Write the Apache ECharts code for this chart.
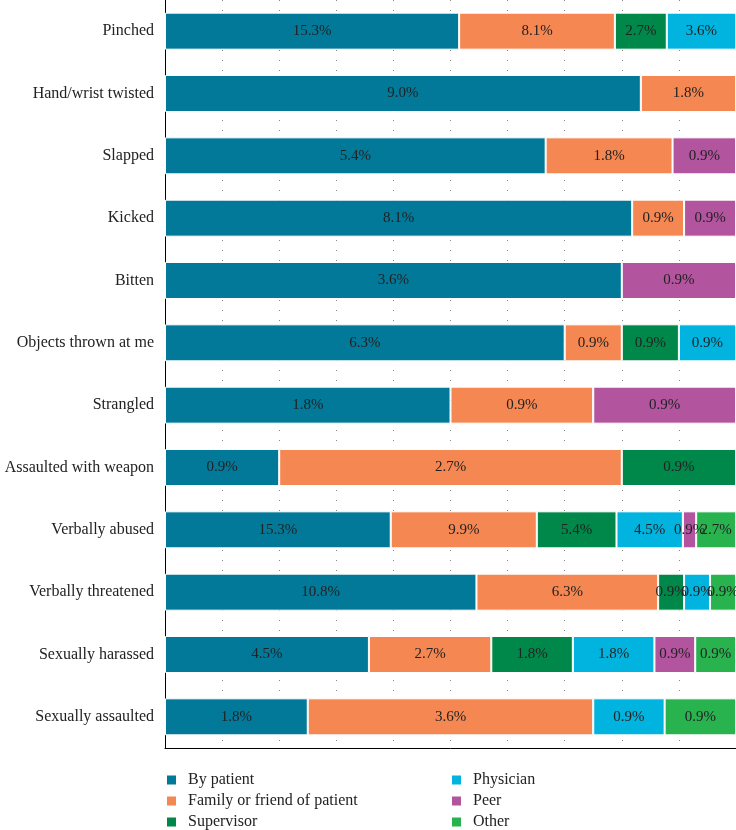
<!DOCTYPE html>
<html>
<head>
<meta charset="utf-8">
<script src="https://cdn.jsdelivr.net/npm/echarts@6/dist/echarts.min.js"></script>
<style>
  html, body { margin: 0; padding: 0; background: #fff; }
  #main { width: 736px; height: 830px; }
</style>
</head>
<body>
<div id="main"></div>
<script>
// categories, top to bottom
var categories = ['Pinched', 'Hand/wrist twisted', 'Slapped', 'Kicked', 'Bitten',
  'Objects thrown at me', 'Strangled', 'Assaulted with weapon', 'Verbally abused',
  'Verbally threatened', 'Sexually harassed', 'Sexually assaulted'];

var seriesNames = ['By patient', 'Family or friend of patient', 'Supervisor', 'Physician', 'Peer', 'Other'];
var colors = ['#03799a', '#f58752', '#00874a', '#00b4df', '#b3549f', '#29b34f'];

// percentages (0 = not present)
var byPatient  = [15.3, 9.0, 5.4, 8.1, 3.6, 6.3, 1.8, 0.9, 15.3, 10.8, 4.5, 1.8];
var family     = [8.1, 1.8, 1.8, 0.9, 0, 0.9, 0.9, 2.7, 9.9, 6.3, 2.7, 3.6];
var supervisor = [2.7, 0, 0, 0, 0, 0.9, 0, 0.9, 5.4, 0.9, 1.8, 0];
var physician  = [3.6, 0, 0, 0, 0, 0.9, 0, 0, 4.5, 0.9, 1.8, 0.9];
var peer       = [0, 0, 0.9, 0.9, 0.9, 0, 0.9, 0, 0.9, 0, 0.9, 0];
var other      = [0, 0, 0, 0, 0, 0, 0, 0, 2.7, 0.9, 0.9, 0.9];

var allData = [byPatient, family, supervisor, physician, peer, other];

// row totals so every bar fills the full width
var totals = categories.map(function (c, i) {
  var s = 0;
  for (var k = 0; k < allData.length; k++) s += allData[k][i];
  return s;
});

var font = '"Liberation Serif", "DejaVu Serif", serif';

var series = seriesNames.map(function (name, k) {
  return {
    name: name,
    type: 'bar',
    stack: 'all',
    barWidth: 37,
    itemStyle: { color: colors[k], borderColor: '#fff', borderWidth: 1 },
    label: {
      show: true,
      position: 'inside',
      color: '#222',
      fontFamily: font,
      fontSize: 15,
      formatter: function (p) {
        return p.data.raw ? p.data.raw.toFixed(1) + '%' : '';
      }
    },
    data: allData[k].map(function (v, i) {
      return { value: v / totals[i], raw: v };
    })
  };
});

var legendText = { fontFamily: font, fontSize: 16, color: '#222', lineHeight: 16, padding: [0, 0, 0, 6] };

var myChart = echarts.init(document.getElementById('main'));
var option = {
  animation: false,
  backgroundColor: '#fff',
  grid: { left: 165, right: 0, top: 0, height: 748, outerBoundsMode: 'none', containLabel: false },
  legend: [{
    orient: 'vertical',
    left: 165, top: 772, height: 80, padding: 0,
    itemWidth: 11, itemHeight: 11, itemGap: 5,
    icon: 'rect',
    textStyle: legendText,
    data: seriesNames.slice(0, 3)
  }, {
    orient: 'vertical',
    left: 450, top: 772, height: 80, padding: 0,
    itemWidth: 11, itemHeight: 11, itemGap: 5,
    icon: 'rect',
    textStyle: legendText,
    data: seriesNames.slice(3)
  }],
  xAxis: {
    type: 'value',
    min: 0, max: 1, interval: 0.1,
    axisLine: { show: true, lineStyle: { color: '#000', width: 1 } },
    axisTick: { show: false },
    axisLabel: { show: false },
    splitLine: { show: true, lineStyle: { color: '#888', type: [1, 9], width: 1 } }
  },
  yAxis: {
    type: 'category',
    inverse: true,
    data: categories,
    axisLine: { show: true, lineStyle: { color: '#000', width: 1 } },
    axisTick: { show: false },
    axisLabel: { fontFamily: font, fontSize: 16, color: '#222', margin: 11 }
  },
  series: series
};
myChart.setOption(option);
</script>
</body>
</html>
